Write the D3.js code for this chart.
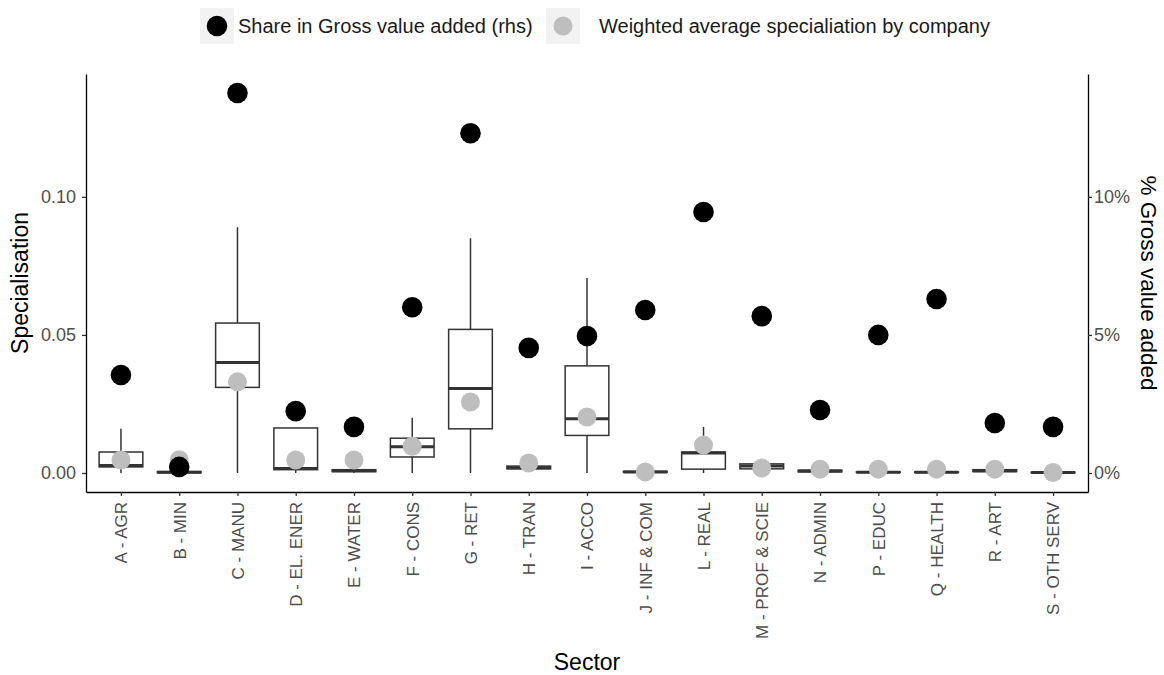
<!DOCTYPE html>
<html>
<head>
<meta charset="utf-8">
<script src="https://cdnjs.cloudflare.com/ajax/libs/d3/7.8.5/d3.min.js"></script>
<style>
    body { margin: 0; background: #fff; }
    text { font-family: "Liberation Sans", Arial, sans-serif; }
</style>
</head>
<body>
<div id="chart"></div>
<script>
// sectors on the x axis
let sectors = ["A - AGR", "B - MIN", "C - MANU", "D - EL. ENER", "E - WATER", "F - CONS", "G - RET", "H - TRAN",
    "I - ACCO", "J - INF & COM", "L - REAL", "M - PROF & SCIE", "N - ADMIN", "P - EDUC", "Q - HEALTH", "R - ART", "S - OTH SERV"];
// boxplot stats of specialisation: lower whisker, Q1, median, Q3, upper whisker
let whiskerLow = [0, 0, 0, 0, 0, 0, 0, 0.0012, 0, 0.0002, 0, 0.0010, 0.0003, 0.0002, 0.0002, 0.0003, 0.0001];
let q1 = [0.0022, 0.0001, 0.031, 0.0012, 0.0005, 0.0058, 0.016, 0.0015, 0.0136, 0.0003, 0.0014, 0.0015, 0.0004, 0.0002, 0.0002, 0.0005, 0.0001];
let median = [0.0027, 0.0003, 0.040, 0.0016, 0.0008, 0.0095, 0.0306, 0.0019, 0.0196, 0.0004, 0.0072, 0.0025, 0.0007, 0.0003, 0.0003, 0.0008, 0.0002];
let q3 = [0.0076, 0.0005, 0.0543, 0.0163, 0.0012, 0.0126, 0.052, 0.0025, 0.0388, 0.0006, 0.0076, 0.0033, 0.0010, 0.0004, 0.0004, 0.0012, 0.0003];
let whiskerHigh = [0.0160, 0.0008, 0.089, 0.0163, 0.0015, 0.0200, 0.085, 0.0030, 0.0706, 0.0008, 0.0167, 0.0040, 0.0012, 0.0005, 0.0005, 0.0014, 0.0004];
// weighted average specialisation by company
let weightedAvg = [0.0047, 0.0048, 0.033, 0.0047, 0.0047, 0.0097, 0.0257, 0.0036, 0.0203, 0.0004, 0.0101, 0.0018, 0.0014, 0.0014, 0.0014, 0.0014, 0.0002];
// share in gross value added, % (rhs)
let gvaShare = [3.55, 0.22, 13.76, 2.24, 1.67, 6.0, 12.3, 4.53, 4.96, 5.9, 9.45, 5.68, 2.28, 5.0, 6.3, 1.81, 1.67];
let leftTicks = [0, 0.05, 0.10];
let rightTicks = [0, 5, 10];
let legendLabels = ["Share in Gross value added (rhs)", "Weighted average specialiation by company"];

let width = 1164, height = 675;
let panel = { left: 86, right: 1088, top: 74, bottom: 492 };
let lineColor = "#333333";
let tickTextColor = "#4d4d4d";

let svg = d3.select("#chart").append("svg").attr("width", width).attr("height", height);

let x = d3.scalePoint().domain(sectors).range([panel.left, panel.right]).padding(0.6);
let step = x.step();
let yMax = Math.max(d3.max(whiskerHigh), d3.max(gvaShare) / 100);
let pad = yMax * 0.05;
let y = d3.scaleLinear().domain([0 - pad, yMax + pad]).range([panel.bottom, panel.top]);
let yRight = d3.scaleLinear().domain(y.domain().map(d => d * 100)).range(y.range());

// boxes
let boxWidth = step * 0.75;
let boxes = svg.append("g").attr("class", "boxes");
sectors.forEach((s, i) => {
    let cx = x(s);
    boxes.append("line").attr("x1", cx).attr("x2", cx).attr("y1", y(whiskerLow[i])).attr("y2", y(q1[i]))
        .attr("stroke", lineColor).attr("stroke-width", 1.5);
    boxes.append("line").attr("x1", cx).attr("x2", cx).attr("y1", y(q3[i])).attr("y2", y(whiskerHigh[i]))
        .attr("stroke", lineColor).attr("stroke-width", 1.5);
    boxes.append("rect").attr("x", cx - boxWidth / 2).attr("y", y(q3[i])).attr("width", boxWidth)
        .attr("height", Math.max(0, y(q1[i]) - y(q3[i])))
        .attr("fill", "#fff").attr("stroke", lineColor).attr("stroke-width", 1.5);
    boxes.append("line").attr("x1", cx - boxWidth / 2).attr("x2", cx + boxWidth / 2).attr("y1", y(median[i])).attr("y2", y(median[i]))
        .attr("stroke", lineColor).attr("stroke-width", 3);
});

// grey points then black points
svg.append("g").selectAll("circle").data(weightedAvg).join("circle")
    .attr("cx", (d, i) => x(sectors[i])).attr("cy", d => y(d)).attr("r", 9.5).attr("fill", "#bebebe");
svg.append("g").selectAll("circle").data(gvaShare).join("circle")
    .attr("cx", (d, i) => x(sectors[i])).attr("cy", d => yRight(d)).attr("r", 10.3).attr("fill", "#000");

// axes
let axisLeft = svg.append("g").attr("transform", "translate(" + panel.left + ",0)")
    .call(d3.axisLeft(y).tickValues(leftTicks).tickFormat(d3.format(".2f")).tickSize(4).tickSizeOuter(0).tickPadding(6));
let axisRight = svg.append("g").attr("transform", "translate(" + panel.right + ",0)")
    .call(d3.axisRight(yRight).tickValues(rightTicks).tickFormat(d => d + "%").tickSize(4).tickSizeOuter(0).tickPadding(2));
let axisBottom = svg.append("g").attr("transform", "translate(0," + panel.bottom + ")")
    .call(d3.axisBottom(x).tickSize(4).tickSizeOuter(0));

[axisLeft, axisRight, axisBottom].forEach(a => {
    a.select(".domain").attr("stroke", "#000").attr("stroke-width", 1.3);
    a.selectAll(".tick line").attr("stroke", lineColor).attr("stroke-width", 1.3);
    a.selectAll(".tick text").attr("fill", tickTextColor).style("font-size", "18px")
        .style("font-family", "'Liberation Sans', Arial, sans-serif");
});
axisBottom.selectAll("text").attr("transform", "rotate(-90)").attr("x", -10).attr("y", 0).attr("dy", "0.35em")
    .attr("text-anchor", "end").style("font-size", "17px");

// axis titles
svg.append("text").text("Specialisation").attr("transform", "translate(28," + ((panel.top + panel.bottom) / 2) + ") rotate(-90)")
    .attr("text-anchor", "middle").style("font-size", "23px").attr("fill", "#000");
svg.append("text").text("% Gross value added").attr("transform", "translate(1141," + ((panel.top + panel.bottom) / 2) + ") rotate(90)")
    .attr("text-anchor", "middle").style("font-size", "22.5px").attr("fill", "#000");
svg.append("text").text("Sector").attr("x", (panel.left + panel.right) / 2).attr("y", 670)
    .attr("text-anchor", "middle").style("font-size", "23px").attr("fill", "#000");

// legend
let legend = svg.append("g").attr("class", "legend");
let legendKeys = [{ x: 200, color: "#000", r: 10.3, textX: 238 }, { x: 546, color: "#bebebe", r: 9.5, textX: 599 }];
legendKeys.forEach((k, i) => {
    legend.append("rect").attr("x", k.x).attr("y", 8).attr("width", 34).attr("height", 36).attr("fill", "#f2f2f2");
    legend.append("circle").attr("cx", k.x + 17).attr("cy", 26).attr("r", k.r).attr("fill", k.color);
    legend.append("text").text(legendLabels[i]).attr("x", k.textX).attr("y", 33)
        .style("font-size", "20px").attr("fill", "#1a1a1a");
});
</script>
</body>
</html>
